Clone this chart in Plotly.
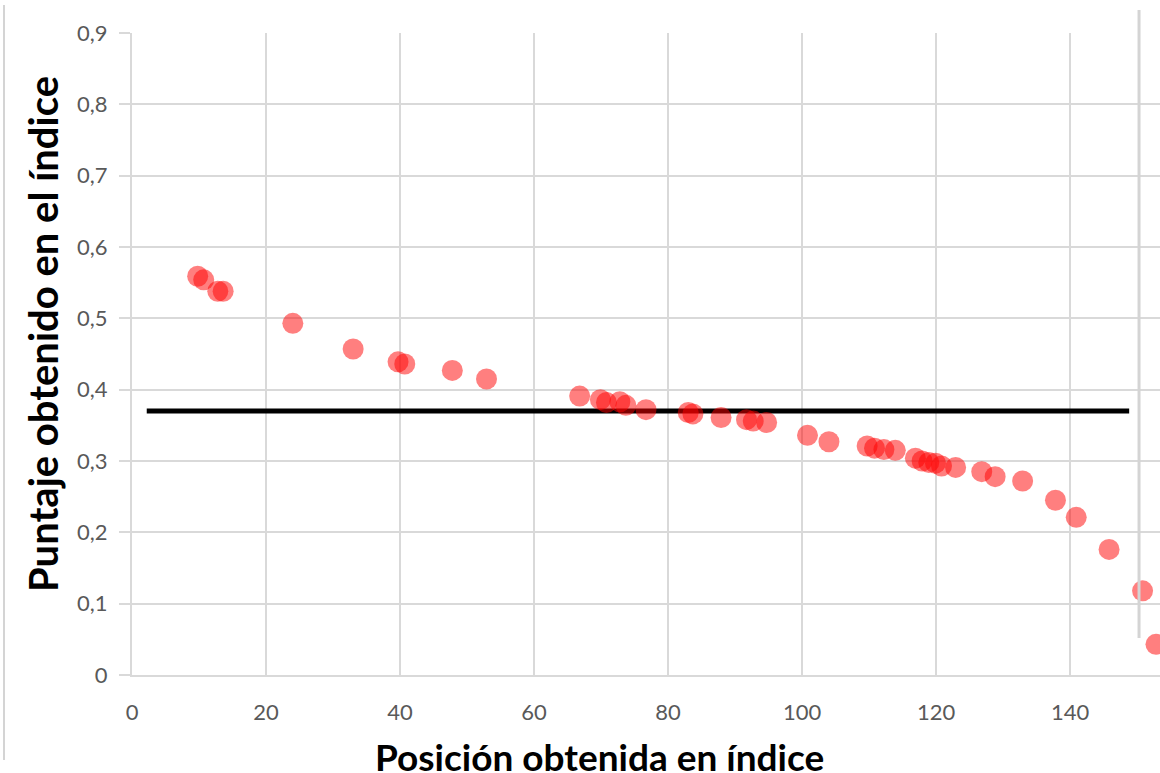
import plotly.graph_objects as go

# Data
pos_x = [9.8, 10.7, 12.8, 13.6, 24.0, 33.0, 39.7, 40.7, 47.8, 52.9,
         66.8, 69.9, 70.8, 72.8, 73.7, 76.7, 83.0, 83.7, 87.9, 91.7,
         92.7, 94.7, 100.8, 104.0, 109.7, 110.8, 112.2, 113.9, 116.9, 117.9,
         118.9, 119.9, 120.8, 122.9, 126.8, 128.8, 132.9, 137.8, 140.9, 145.8,
         150.8, 152.8]
puntaje_y = [0.559, 0.554, 0.538, 0.538, 0.493, 0.457, 0.439, 0.436, 0.427, 0.415,
             0.391, 0.386, 0.382, 0.383, 0.378, 0.372, 0.368, 0.366, 0.361, 0.358,
             0.356, 0.354, 0.336, 0.327, 0.321, 0.318, 0.316, 0.315, 0.304, 0.300,
             0.298, 0.297, 0.293, 0.291, 0.285, 0.278, 0.272, 0.245, 0.221, 0.176,
             0.118, 0.043]
ref_line_x = [2.2, 148.8]
ref_line_y = [0.37, 0.37]

x_ticks = [0, 20, 40, 60, 80, 100, 120, 140]
y_ticks = [0, 0.1, 0.2, 0.3, 0.4, 0.5, 0.6, 0.7, 0.8, 0.9]
y_ticktext = ["0", "0,1", "0,2", "0,3", "0,4", "0,5", "0,6", "0,7", "0,8", "0,9"]

x_title = "Posición obtenida en índice"
y_title = "Puntaje obtenido en el índice"

GRID = "#d9d9d9"
TICKFONT = dict(family="Lato, Carlito, sans-serif", size=22, color="#595959")
YTITLEFONT = dict(family="Lato, Carlito, sans-serif", size=40, color="#000000")
XTITLEFONT = dict(family="Lato, Carlito, sans-serif", size=37, color="#000000")

fig = go.Figure()
fig.add_trace(go.Scatter(x=ref_line_x, y=ref_line_y, mode="lines",
                         line=dict(color="#000000", width=5), showlegend=False,
                         hoverinfo="skip"))
fig.add_trace(go.Scatter(x=pos_x, y=puntaje_y, mode="markers",
                         marker=dict(color="#ff0000", size=21, opacity=0.5,
                                     line=dict(width=0)),
                         showlegend=False, cliponaxis=True))

fig.update_layout(
    width=1160, height=773,
    margin=dict(l=132, r=0, t=33, b=98),
    paper_bgcolor="white", plot_bgcolor="white",
    xaxis=dict(range=[0, 153.4], tickvals=x_ticks, showgrid=True,
               gridcolor=GRID, gridwidth=2, showline=True, linecolor=GRID,
               linewidth=2, ticks="", zeroline=False, tickfont=TICKFONT,
               ticklabelstandoff=17),
    yaxis=dict(range=[0, 0.9], tickvals=y_ticks, ticktext=y_ticktext,
               showgrid=True, gridcolor=GRID, gridwidth=2, showline=True,
               linecolor=GRID, linewidth=2, ticks="outside", ticklen=11,
               tickcolor=GRID, tickwidth=2, zeroline=False, tickfont=TICKFONT,
               ticklabelstandoff=7),
    annotations=[
        dict(text=f"<b>{y_title}</b>", xref="paper", yref="paper",
             x=-0.0866, y=0.531, xanchor="center", yanchor="middle",
             textangle=-90, showarrow=False, font=YTITLEFONT),
        dict(text=f"<b>{x_title}</b>", xref="paper", yref="paper",
             x=0.455, y=-0.0888, xanchor="center", yanchor="top",
             showarrow=False, font=XTITLEFONT),
    ],
    shapes=[
        dict(type="line", xref="paper", yref="paper", x0=0.9796, x1=0.9796,
             y0=0.0576, y1=1.0358, line=dict(color="#d4d4d4", width=3)),
        dict(type="line", xref="paper", yref="paper", x0=-0.1245, x1=-0.1245,
             y0=-0.1324, y1=1.0436, line=dict(color="#d4d4d4", width=2)),
    ],
)

fig.write_html("out.html", config={"displayModeBar": False},
               post_script="document.body.style.margin='0';")
